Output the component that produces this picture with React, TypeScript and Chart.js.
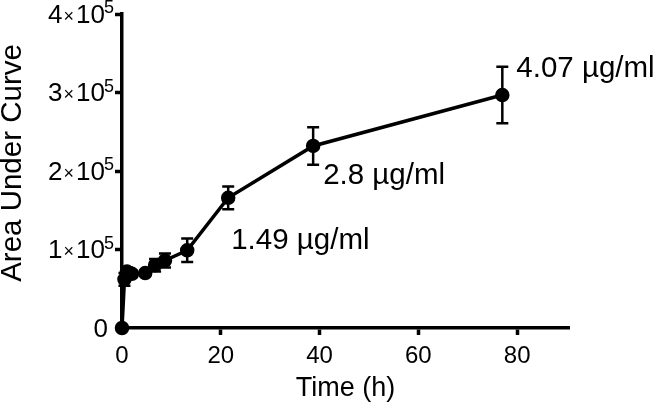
import React, { useEffect, useRef } from "react";
import { Chart, registerables } from "chart.js";

Chart.register(...registerables);

const timeH = [0, 0.5, 1, 2, 4.7, 6.7, 8.7, 13.2, 21.5, 38.7, 77];
const auc = [0, 62000, 72000, 69000, 70000, 80000, 86000, 99000, 166000, 232000, 297000];
const aucErr = [0, 8000, 5000, 4000, 3000, 8000, 9000, 15000, 14500, 24000, 36000];
const yTickMantissa = ["0", "1", "2", "3", "4"];
const yTickExponent = ["", "5", "5", "5", "5"];
const yTitle = "Area Under Curve";
const pointLabels = [
  { index: 8, text: "1.49 µg/ml", dx: 3, dy: 43 },
  { index: 9, text: "2.8 µg/ml", dx: 10, dy: 30 },
  { index: 10, text: "4.07 µg/ml", dx: 14, dy: -26 },
];

const FONT = "'Liberation Sans', Arial, Helvetica, sans-serif";

const overlayPlugin = {
  id: "overlay",
  afterDatasetsDraw(chart: any) {
    const { ctx, scales } = chart;
    const xs = scales.x;
    const ys = scales.y;
    ctx.save();
    ctx.strokeStyle = "#000";
    ctx.lineWidth = 2.5;
    for (let i = 0; i < timeH.length; i++) {
      const e = aucErr[i];
      if (!e) continue;
      const px = xs.getPixelForValue(timeH[i]);
      const top = ys.getPixelForValue(auc[i] + e);
      const bot = ys.getPixelForValue(auc[i] - e);
      ctx.beginPath();
      ctx.moveTo(px, top);
      ctx.lineTo(px, bot);
      ctx.moveTo(px - 6, top);
      ctx.lineTo(px + 6, top);
      ctx.moveTo(px - 6, bot);
      ctx.lineTo(px + 6, bot);
      ctx.stroke();
    }
    ctx.fillStyle = "#000";
    ctx.font = `29.5px ${FONT}`;
    ctx.textBaseline = "middle";
    ctx.textAlign = "left";
    for (const l of pointLabels) {
      const px = xs.getPixelForValue(timeH[l.index]);
      const py = ys.getPixelForValue(auc[l.index]);
      ctx.fillText(l.text, px + l.dx, py + l.dy);
    }

    // y tick labels: mantissa × 10^exponent
    ctx.textBaseline = "alphabetic";
    ctx.textAlign = "left";
    const rightEdge = ys.right - 8;
    for (let k = 0; k < yTickMantissa.length; k++) {
      const py = ys.getPixelForValue(k * 100000);
      const base = py + 8.5;
      if (!yTickExponent[k]) {
        ctx.font = `26px ${FONT}`;
        const w = ctx.measureText(yTickMantissa[k]).width;
        ctx.fillText(yTickMantissa[k], ys.right - 14 - w, base);
        continue;
      }
      ctx.font = `18px ${FONT}`;
      const wSup = ctx.measureText(yTickExponent[k]).width;
      let x = rightEdge - wSup;
      ctx.fillText(yTickExponent[k], x, py - 1);
      ctx.font = `26px ${FONT}`;
      const wTen = ctx.measureText("10").width;
      x = x - wTen + 1;
      ctx.fillText("10", x, base);
      ctx.font = `18px ${FONT}`;
      const wTimes = ctx.measureText("×").width;
      x = x - wTimes - 2;
      ctx.fillText("×", x, base - 1);
      ctx.font = `26px ${FONT}`;
      const wM = ctx.measureText(yTickMantissa[k]).width;
      x = x - wM - 1;
      ctx.fillText(yTickMantissa[k], x, base);
    }

    // y axis title
    ctx.save();
    ctx.translate(13, 163);
    ctx.rotate(-Math.PI / 2);
    ctx.font = `29.5px ${FONT}`;
    ctx.textAlign = "center";
    ctx.textBaseline = "middle";
    ctx.fillText(yTitle, 0, 0);
    ctx.restore();
    ctx.restore();
  },
};

export default function App() {
  const ref = useRef<HTMLCanvasElement>(null);
  useEffect(() => {
    if (!ref.current) return;
    const chart = new Chart(ref.current, {
      type: "line",
      data: {
        datasets: [
          {
            data: timeH.map((t, i) => ({ x: t, y: auc[i] })),
            borderColor: "#000",
            backgroundColor: "#000",
            borderWidth: 3.5,
            pointRadius: 5.5,
            pointBackgroundColor: "#000",
            pointBorderColor: "#000",
            clip: false as any,
          },
        ],
      },
      options: {
        responsive: false,
        animation: false,
        layout: { padding: { left: 0, top: 12, right: 88, bottom: 0 } },
        plugins: { legend: { display: false }, tooltip: { enabled: false } },
        scales: {
          x: {
            type: "linear",
            min: 0,
            max: 90.5,
            afterFit: (s: any) => {
              s.height = 78;
            },
            border: { display: true, width: 3.5, color: "#000" },
            grid: {
              display: true,
              drawOnChartArea: false,
              drawTicks: true,
              tickLength: 7,
              tickWidth: 3.5,
              tickColor: "#000",
            },
            ticks: {
              stepSize: 20,
              includeBounds: false,
              color: "#000",
              padding: 7,
              maxRotation: 0,
              font: { family: FONT, size: 24 },
            },
            title: {
              display: true,
              text: "Time (h)",
              color: "#000",
              font: { family: FONT, size: 27 },
              padding: { top: 0, bottom: 1 },
            },
          },
          y: {
            type: "linear",
            min: 0,
            max: 400000,
            afterFit: (s: any) => {
              s.width = 122;
            },
            border: { display: true, width: 3.5, color: "#000" },
            grid: {
              display: true,
              drawOnChartArea: false,
              drawTicks: true,
              tickLength: 7,
              tickWidth: 3.5,
              tickColor: "#000",
            },
            ticks: {
              stepSize: 100000,
              color: "#000",
              padding: 1,
              font: { family: FONT, size: 22 },
              callback: () => "",
            },
          },
        },
      },
      plugins: [overlayPlugin],
    });
    return () => chart.destroy();
  }, []);
  return (
    <div style={{ position: "absolute", left: 0, top: 0, width: 657, height: 406, background: "#fff" }}>
      <canvas ref={ref} width={657} height={406} />
    </div>
  );
}
